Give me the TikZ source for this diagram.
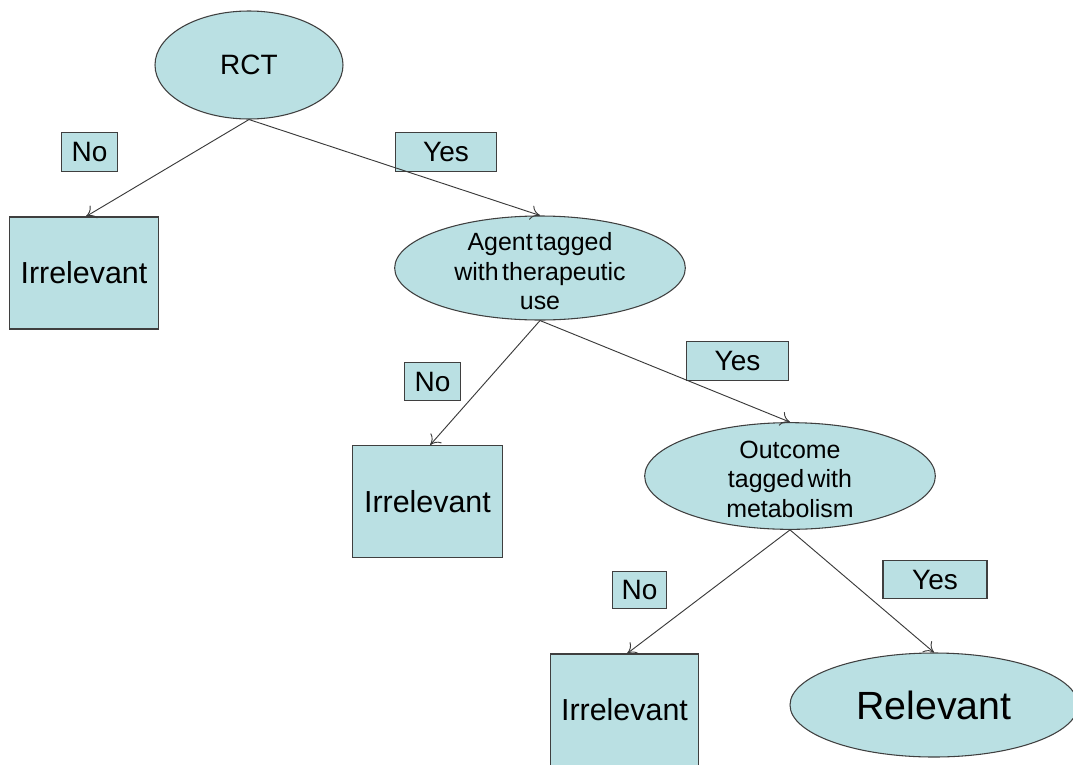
\documentclass[tikz,border=0pt]{standalone}
\usepackage{fontspec}
\setmainfont{Liberation Sans}
\usetikzlibrary{shapes.geometric,arrows.meta}
\definecolor{boxfill}{HTML}{BAE0E3}
\definecolor{boxline}{HTML}{3F3F3F}
\definecolor{arrline}{HTML}{3A3A3A}
\newcommand{\smallfnt}{\fontsize{18.7}{22.3}\selectfont}
\newcommand{\tsp}{\hspace{0.14em}}
\tikzset{
  ell/.style={ellipse, draw=boxline, fill=boxfill, line width=0.8pt, inner sep=0pt, align=center},
  sq/.style={rectangle, draw=boxline, fill=boxfill, line width=0.8pt, inner sep=0pt, align=center},
  lbl/.style={rectangle, draw=boxline, fill=boxfill, line width=0.8pt, inner sep=0pt,
     font=\fontsize{21}{25}\selectfont},
  intext/.style={label={[font=\smallfnt, align=center, inner sep=0pt, yshift=-2.5pt]center:#1}},
  conn/.style={draw=arrline, line width=0.7pt, -{To[length=7pt,width=11pt]}},
}
\begin{document}
\begin{tikzpicture}[x=0.75pt,y=-0.75pt]
\useasboundingbox (0,0) rectangle (1073,764);
% decision nodes
\node[ell, minimum width=141pt, minimum height=81pt, font=\fontsize{21}{25}\selectfont] (rct) at (249,65) {RCT};
\node[ell, minimum width=218pt, minimum height=78pt, intext={Agent\tsp tagged\\with\tsp therapeutic\\use}] (agent) at (540,268) {};
\node[ell, minimum width=218pt, minimum height=80pt, intext={Outcome\\tagged\tsp with\\metabolism}] (outcome) at (790,476) {};
% leaves
\node[sq, minimum width=112pt, minimum height=84pt, font=\fontsize{22.8}{26}\selectfont] (irr1) at (84,273) {Irrelevant};
\node[sq, minimum width=112pt, minimum height=84pt, font=\fontsize{22.8}{26}\selectfont] (irr2) at (427.5,501.5) {Irrelevant};
\node[sq, minimum width=111pt, minimum height=84pt, font=\fontsize{22.8}{26}\selectfont] (irr3) at (624.5,710) {Irrelevant};
\node[ell, minimum width=216pt, minimum height=78pt, font=\fontsize{29.5}{33}\selectfont] (rel) at (934,705) {Relevant};
% labels
\node[lbl, minimum width=42pt, minimum height=29pt] (no1) at (89.5,152) {No};
\node[lbl, minimum width=76pt, minimum height=29pt] (yes1) at (446,152) {Yes};
\node[lbl, minimum width=42pt, minimum height=29pt] (no2) at (432.5,381.5) {No};
\node[lbl, minimum width=77pt, minimum height=29pt] (yes2) at (737.5,361) {Yes};
\node[lbl, minimum width=41pt, minimum height=28pt] (no3) at (639.5,590) {No};
\node[lbl, minimum width=78pt, minimum height=28pt] (yes3) at (935,579.5) {Yes};
% connectors
\draw[conn] (rct.south) -- ([xshift=1.5pt]irr1.north);
\draw[conn] (rct.south) -- (agent.north);
\draw[conn] (agent.south) -- ([xshift=2pt]irr2.north);
\draw[conn] (agent.south) -- (outcome.north);
\draw[conn] (outcome.south) -- ([xshift=2pt]irr3.north);
\draw[conn] (outcome.south) -- (rel.north);
\end{tikzpicture}
\end{document}
